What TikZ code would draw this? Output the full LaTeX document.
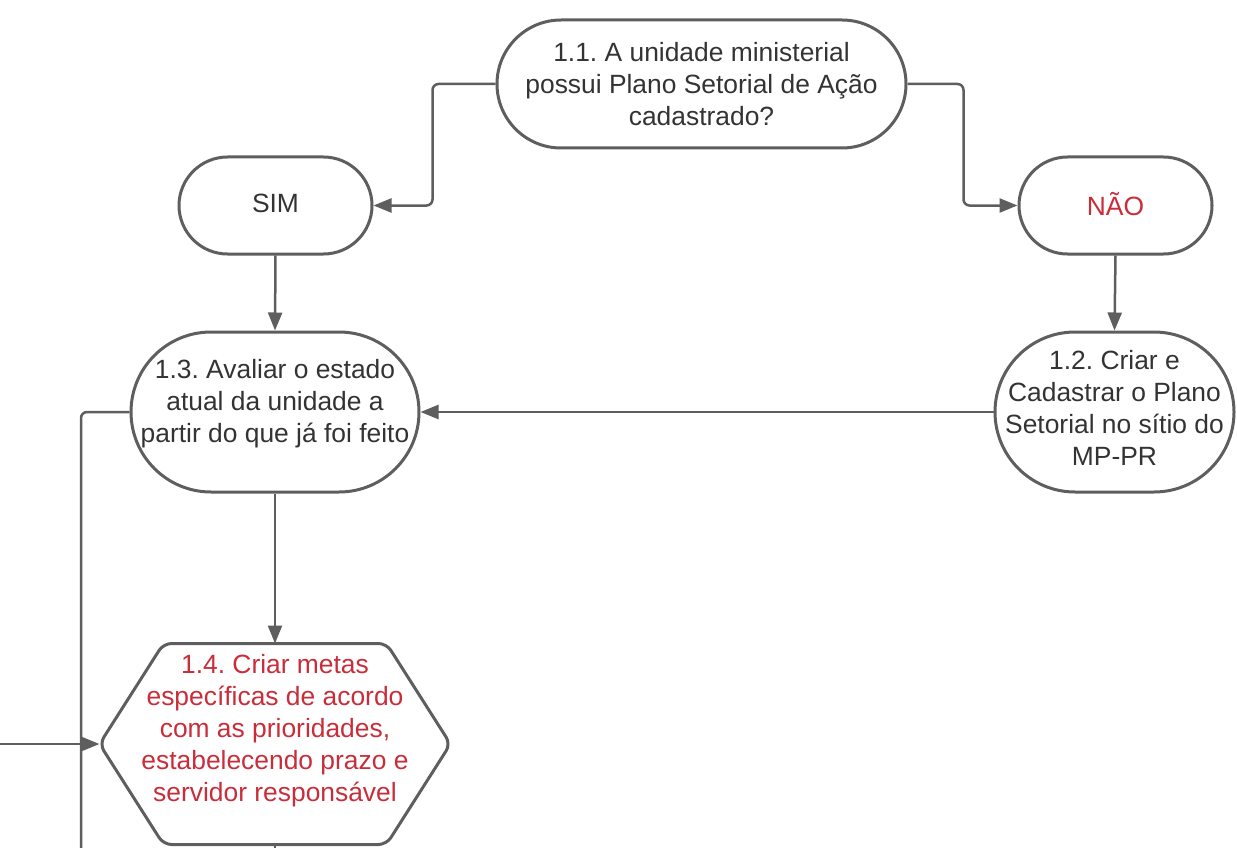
\documentclass[tikz,border=0pt]{standalone}
\usepackage{fontspec}
\setmainfont{Liberation Sans}
\frenchspacing
\usetikzlibrary{calc,arrows.meta}
\definecolor{linegray}{HTML}{5E5E5E}
\definecolor{txtgray}{HTML}{333333}
\definecolor{metared}{HTML}{C92D39}
\newcommand{\txtfont}{\fontsize{26.4}{32}\selectfont}
\newcommand{\down}[1]{\rule[-#1]{0pt}{1pt}}

\begin{document}
\begin{tikzpicture}[x=1pt,y=-1pt]
\tikzset{term/.style={shape=rectangle,draw=linegray,line width=3pt,align=center,inner sep=0pt,font=\txtfont,text=txtgray}}
\tikzset{conn/.style={draw=linegray,line width=2.5pt,rounded corners=6pt}}
\tikzset{tip/.style={-{Triangle[length=18pt,width=14pt]}}}
\def\inset{64pt}
\useasboundingbox (0,0) rectangle (1237,848);
%
\node at (701.5,84) [term,minimum width=409pt,minimum height=128pt,rounded corners=64pt] (cadastrado) {1.1. A unidade ministerial\\possui Plano Setorial de Ação\\cadastrado?};
\node at (275.5,205.5) [term,minimum width=193pt,minimum height=97pt,rounded corners=48.5pt] (sim) {SIM\down{4pt}};
\node at (1115.5,205.5) [term,minimum width=193pt,minimum height=97pt,rounded corners=48.5pt,text=metared] (nao) {NÃO\down{4pt}};
%
\node at (275,412) [term,minimum width=288pt,minimum height=160pt,rounded corners=80pt] (avaliar) {1.3. Avaliar o estado\\atual da unidade a\\partir do que já foi feito\down{22pt}};
\node at (1114.5,412) [term,minimum width=239pt,minimum height=160pt,rounded corners=80pt] (criar) {1.2. Criar e\\Cadastrar o Plano\\Setorial no sítio do\\MP-PR\down{8pt}};
%
\node at (275,744) [term,draw=none,minimum width=348pt,minimum height=198pt,text=metared] (metas) {1.4. Criar metas\\específicas de acordo\\com as prioridades,\\estabelecendo prazo e\\servidor responsável\down{32pt}};
\draw[draw=linegray,line width=3pt,rounded corners=8pt] (metas.west) -- ([xshift=\inset]metas.north west) -- ([xshift=-\inset]metas.north east) -- (metas.east) -- ([xshift=-\inset]metas.south east) -- ([xshift=\inset]metas.south west) -- cycle;
%
\coordinate (desce) at (81,852);
\coordinate (entra) at (0,744);
\coordinate (sai) at (275,852);
%
\draw[conn,tip] (cadastrado.west) -- ++(-63,0) |- (sim.east);
\draw[conn,tip] (cadastrado.east) -- ++(56,0) |- (nao.west);
\draw[conn,tip] (sim.south) -- (avaliar.north);
\draw[conn,tip] (nao.south) -- (criar.north);
\draw[conn,tip] (criar.west) -- (avaliar.east);
\draw[conn,tip] (avaliar.south) -- (metas.north);
\draw[conn] (avaliar.west) -| (desce);
\draw[conn,tip] (entra) -- (metas.west);
\draw[conn] (metas.south) -- (sai);
\end{tikzpicture}
\end{document}
